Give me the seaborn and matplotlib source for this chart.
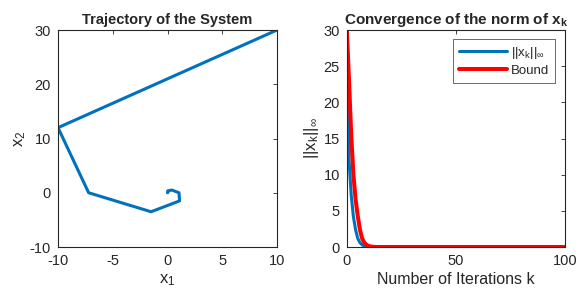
import numpy as np
import pandas as pd
import matplotlib
matplotlib.use("Agg")
import matplotlib.pyplot as plt
import seaborn as sns

# ── data ────────────────────────────────────────────────────
traj_x1 = [10.0, -10.0, -7.2, -1.5, 1.1, 1.05, 0.4, 0.02, 0.05, 0.02, 0.0]
traj_x2 = [30.0, 12.0, 0.0, -3.5, -1.5, 0.0, 0.5, 0.35, 0.1, 0.02, 0.0]

n_iter = 101
norm_head = [30.0, 12.0, 7.2, 4.2, 2.4, 1.2, 0.6, 0.3, 0.12, 0.05, 0.02]
bound_head = [30.0, 23.0, 15.5, 10.0, 6.6, 4.3, 2.4, 1.2, 0.6, 0.3, 0.15,
              0.07, 0.03, 0.01]
norm_vals = norm_head + [0.0] * (n_iter - len(norm_head))
bound_vals = bound_head + [0.0] * (n_iter - len(bound_head))
iters = list(range(n_iter))

# ── style ───────────────────────────────────────────────────
sns.set_style("white")
plt.rcParams['font.family'] = ['Liberation Sans', 'DejaVu Sans']
plt.rcParams['axes.unicode_minus'] = False
plt.rcParams['mathtext.fontset'] = 'custom'
plt.rcParams['mathtext.rm'] = 'Liberation Sans'
plt.rcParams['mathtext.it'] = 'Liberation Sans'
plt.rcParams['mathtext.bf'] = 'Liberation Sans:bold'

blue = '#0072BD'
red = '#FF0000'
grey = '#262626'

fig = plt.figure(figsize=(5.8, 2.96), dpi=100)
ax1 = fig.add_axes([0.100, 0.1655, 0.3776, 0.7331])
ax2 = fig.add_axes([0.598, 0.1655, 0.376, 0.7331])


def matlab_axes(ax):
    ax.tick_params(direction='in', top=True, right=True, length=3,
                   labelsize=10.5, colors=grey, width=0.6, pad=5)
    for s in ax.spines.values():
        s.set_color(grey)
        s.set_linewidth(0.8)


# --- Left: trajectory ---
sns.lineplot(x=traj_x1, y=traj_x2, sort=False, estimator=None,
             color=blue, lw=2.2, ax=ax1)
ax1.set_xlim(-10, 10)
ax1.set_ylim(-10, 30)
ax1.set_xticks([-10, -5, 0, 5, 10])
ax1.set_yticks([-10, 0, 10, 20, 30])
ax1.set_title("Trajectory of the System", fontsize=10.5, fontweight='bold', pad=4)
ax1.set_xlabel("x$_1$", fontsize=12, color=grey, labelpad=3)
ax1.set_ylabel("x$_2$", fontsize=12, color=grey, labelpad=1)
matlab_axes(ax1)

# --- Right: norm convergence ---
df = pd.DataFrame({"k": iters, "norm": norm_vals, "bound": bound_vals})
sns.lineplot(data=df, x="k", y="norm", color=blue, lw=2.2,
             label=r"||x$_k$||$_\infty$", ax=ax2)
sns.lineplot(data=df, x="k", y="bound", color=red, lw=2.9,
             label="Bound", ax=ax2)
ax2.set_xlim(0, 100)
ax2.set_ylim(0, 30)
ax2.set_xticks([0, 50, 100])
ax2.set_yticks([0, 5, 10, 15, 20, 25, 30])
ax2.set_title(r"Convergence of the norm of x$_\mathbf{k}$", fontsize=11,
              fontweight='bold', pad=4)
ax2.set_xlabel("Number of Iterations k", fontsize=11.5, color=grey, labelpad=3)
ax2.set_ylabel(r"||x$_k$||$_\infty$", fontsize=12, color=grey, labelpad=2)
matlab_axes(ax2)
leg = ax2.legend(loc='upper right', fontsize=9.5, handlelength=3.6,
                 frameon=True, fancybox=False, borderpad=0.45,
                 labelspacing=0.3, handletextpad=0.3, borderaxespad=0,
                 bbox_to_anchor=(0.954, 0.959))
leg.get_frame().set_edgecolor(grey)
leg.get_frame().set_linewidth(0.6)
for t in leg.get_texts():
    t.set_color(grey)

plt.savefig("out.png", dpi=100)
